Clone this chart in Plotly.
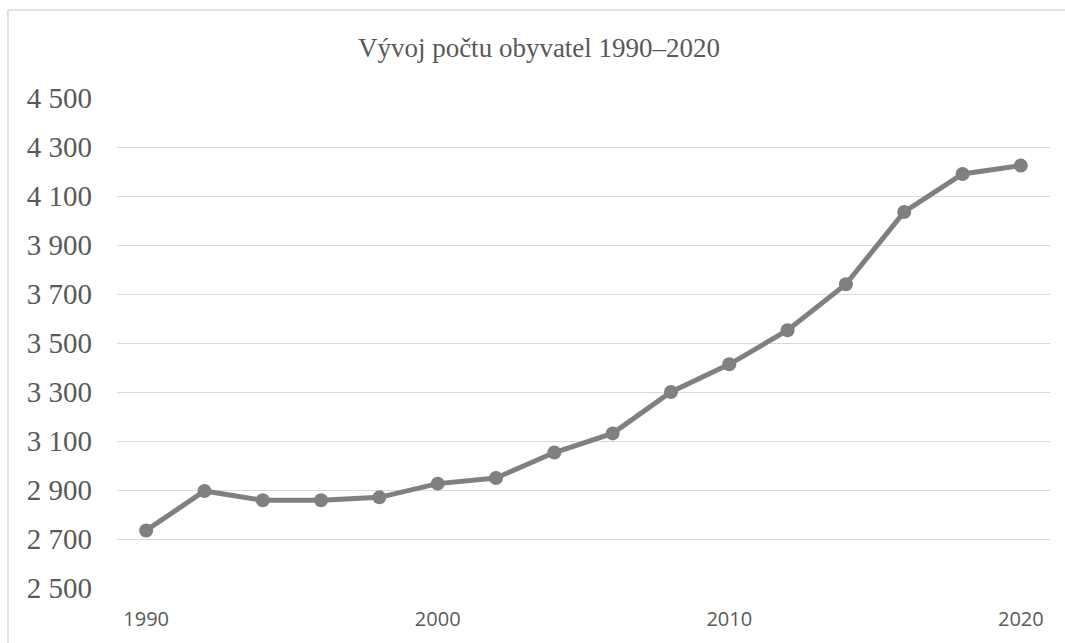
import plotly.graph_objects as go

years = [1990, 1992, 1994, 1996, 1998, 2000, 2002, 2004, 2006, 2008,
         2010, 2012, 2014, 2016, 2018, 2020]
population = [2735, 2896, 2858, 2858, 2870, 2926, 2949, 3053, 3131, 3300,
              3413, 3552, 3740, 4035, 4190, 4224]
x_ticks = [1990, 2000, 2010, 2020]
y_ticks = [2500, 2700, 2900, 3100, 3300, 3500, 3700, 3900, 4100, 4300, 4500]
title_text = "Vývoj počtu obyvatel 1990–2020"

W, H = 1065, 643
ML, MR, MT, MB = 117, 15, 98, 55
pw = W - ML - MR
ph = H - MT - MB

fig = go.Figure()
fig.add_trace(go.Scatter(
    x=years, y=population, mode="lines+markers",
    line=dict(color="#808080", width=5),
    marker=dict(color="#808080", size=14),
    showlegend=False,
))

# chart frame (top and left edges visible)
fx = (8 - ML) / pw
fy = (H - MB - 10) / ph
fig.add_shape(type="line", xref="paper", yref="paper", x0=fx, x1=1.2, y0=fy, y1=fy,
              line=dict(color="#d9d9d9", width=1.5))
fig.add_shape(type="line", xref="paper", yref="paper", x0=fx, x1=fx, y0=-0.3, y1=fy,
              line=dict(color="#d9d9d9", width=1.5))

fig.update_layout(
    width=W, height=H,
    margin=dict(l=ML, r=MR, t=MT, b=MB),
    paper_bgcolor="white", plot_bgcolor="white",
    separators=", ",
    title=dict(text=title_text, x=539 / W, xanchor="center", xref="container",
               y=1 - 48 / H, yanchor="middle", yref="container",
               font=dict(family="Liberation Serif", size=27, color="#595959")),
    xaxis=dict(range=[1989, 2021], tickvals=x_ticks, showgrid=False, zeroline=False,
               showline=False, ticks="", ticklabelstandoff=17,
               tickfont=dict(family="Open Sans", size=20, color="#595959")),
    yaxis=dict(range=[2500, 4500], tickvals=y_ticks, tickformat=",", showgrid=True,
               gridcolor="#d9d9d9", gridwidth=1.3, zeroline=False, showline=False,
               ticks="", ticklabelstandoff=24,
               tickfont=dict(family="Liberation Serif", size=29, color="#595959")),
)

fig.write_html("out.html", config={"displayModeBar": False},
               post_script="document.body.style.margin='0';document.body.style.overflow='hidden';")
